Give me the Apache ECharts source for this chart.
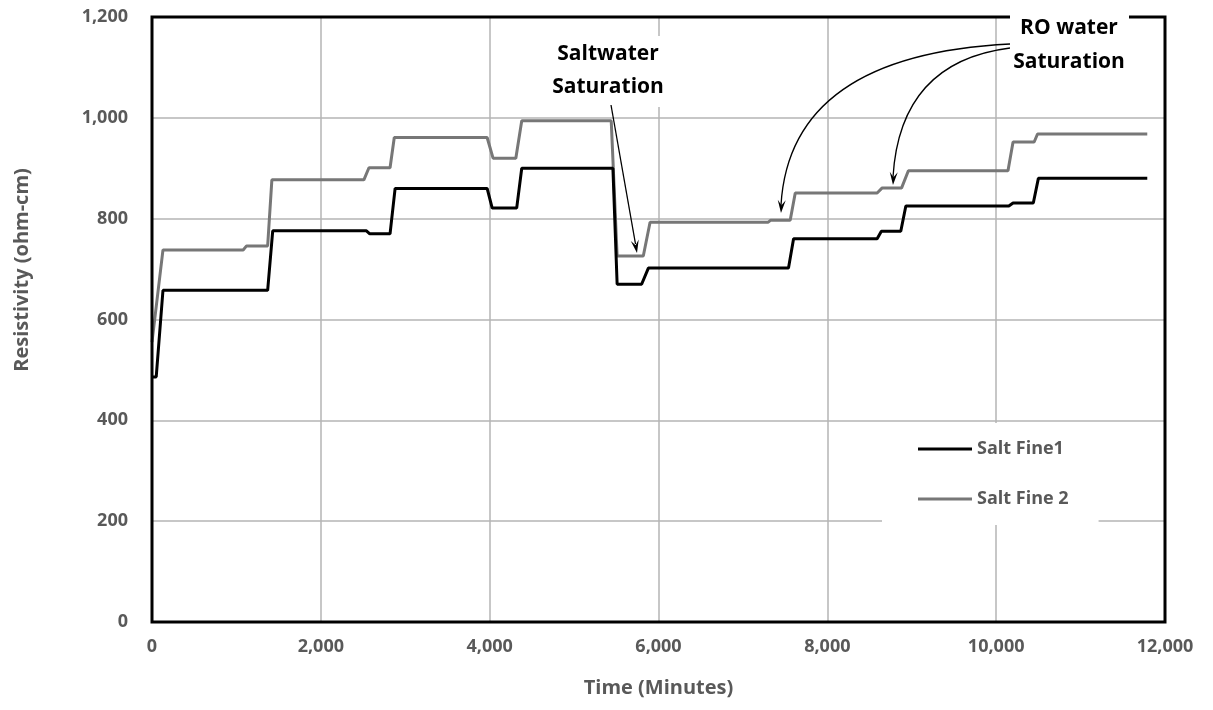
<!DOCTYPE html>
<html>
<head>
<meta charset="utf-8">
<script src="https://cdn.jsdelivr.net/npm/echarts@6/dist/echarts.min.js"></script>
<style>
html,body{margin:0;padding:0;background:#fff;}
#chart{width:1213px;height:710px;}
</style>
</head>
<body>
<div id="chart"></div>
<script>
// ---- data ----
const seriesNames = ['Salt Fine1', 'Salt Fine 2'];
const time1 = [0, 50, 130, 1370, 1430, 2540, 2580, 2820, 2880, 3970, 4030, 4320, 4380, 5460, 5510, 5800, 5880, 7540, 7600, 8590, 8640, 8870, 8930, 10150, 10200, 10440, 10500, 11790];
const res1  = [486, 486, 658, 658, 776, 776, 770, 770, 860, 860, 821, 821, 900, 900, 670, 670, 702, 702, 760, 760, 775, 775, 825, 825, 831, 831, 880, 880];
const time2 = [0, 130, 1080, 1120, 1370, 1420, 2510, 2570, 2820, 2870, 3970, 4040, 4310, 4380, 5440, 5510, 5820, 5900, 7300, 7330, 7560, 7620, 8590, 8650, 8880, 8960, 10140, 10200, 10450, 10490, 11790];
const res2  = [555, 738, 738, 746, 746, 877, 877, 901, 901, 961, 961, 920, 920, 994, 994, 726, 726, 793, 793, 797, 797, 851, 851, 861, 861, 895, 895, 952, 952, 968, 968];
const xTicks = [0, 2000, 4000, 6000, 8000, 10000, 12000];
const yTicks = [0, 200, 400, 600, 800, 1000, 1200];
const xTitle = 'Time (Minutes)';
const yTitle = 'Resistivity (ohm-cm)';
const noteSalt = 'Saltwater\nSaturation';
const noteRO = 'RO water\nSaturation';

const pairs = (xs, ys) => xs.map((x, i) => [x, ys[i]]);
const fmt = v => Number(v).toLocaleString('en-US');

const FONT = '"Open Sans", "Noto Sans", sans-serif';
const GRAYTXT = '#595959';
const GRID = { left: 152, right: 48, top: 17, bottom: 88 };
const W = 1213, H = 710;

function arrowHead(tip, from, len, half) {
  const dx = tip[0] - from[0], dy = tip[1] - from[1];
  const d = Math.hypot(dx, dy);
  const ux = dx / d, uy = dy / d;
  const bx = tip[0] - ux * len, by = tip[1] - uy * len;
  const nx = -uy, ny = ux;
  return {
    type: 'polygon', z: 110,
    shape: { points: [tip, [bx + nx * half, by + ny * half], [tip[0] - ux * len * 0.6, tip[1] - uy * len * 0.6], [bx - nx * half, by - ny * half]] },
    style: { fill: '#000' }
  };
}

const chart = echarts.init(document.getElementById('chart'), null, { renderer: 'canvas' });

const c1 = { x1: 1010, y1: 44, cpx1: 790, cpy1: 55, x2: 781, y2: 213 };
const c2 = { x1: 1010, y1: 48, cpx1: 900, cpy1: 62, x2: 893, y2: 185 };
const s1 = { x1: 611, y1: 105, x2: 637, y2: 253 };

const option = {
  animation: false,
  backgroundColor: '#fff',
  grid: { left: GRID.left, right: GRID.right, top: GRID.top, bottom: GRID.bottom },
  xAxis: {
    type: 'value',
    min: xTicks[0], max: xTicks[xTicks.length - 1], interval: xTicks[1] - xTicks[0],
    name: xTitle, nameLocation: 'middle', nameGap: 56,
    nameTextStyle: { fontFamily: FONT, fontWeight: 'bold', fontSize: 20, color: GRAYTXT },
    axisLine: { show: false }, axisTick: { show: false },
    axisLabel: { margin: 16, fontFamily: FONT, fontWeight: 'bold', fontSize: 18, color: GRAYTXT, formatter: fmt },
    splitLine: { show: true, lineStyle: { color: '#b4b4b4', width: 1.5 } }
  },
  yAxis: {
    type: 'value',
    min: yTicks[0], max: yTicks[yTicks.length - 1], interval: yTicks[1] - yTicks[0],
    axisLine: { show: false }, axisTick: { show: false },
    axisLabel: { margin: 24, fontFamily: FONT, fontWeight: 'bold', fontSize: 18, color: GRAYTXT, formatter: fmt },
    splitLine: { show: true, lineStyle: { color: '#b4b4b4', width: 1.5 } }
  },
  legend: {
    orient: 'vertical', left: 882, top: 423,
    backgroundColor: '#fff',
    padding: [16, 30, 16, 36],
    itemGap: 30, itemWidth: 54, itemHeight: 3, icon: 'rect',
    textStyle: { fontFamily: FONT, fontSize: 18, fontWeight: 'bold', color: GRAYTXT, lineHeight: 20 },
    data: seriesNames
  },
  series: [
    {
      name: seriesNames[0], type: 'line', data: pairs(time1, res1),
      showSymbol: false, symbol: 'none', z: 3,
      lineStyle: { color: '#000', width: 3 }, itemStyle: { color: '#000' }
    },
    {
      name: seriesNames[1], type: 'line', data: pairs(time2, res2),
      showSymbol: false, symbol: 'none', z: 2,
      lineStyle: { color: '#777', width: 3 }, itemStyle: { color: '#777' }
    }
  ],
  graphic: [
    // plot frame
    {
      type: 'rect', z: 50,
      shape: { x: GRID.left, y: GRID.top, width: W - GRID.left - GRID.right, height: H - GRID.top - GRID.bottom },
      style: { fill: null, stroke: '#000', lineWidth: 3 }
    },
    // y axis title
    {
      type: 'text', z: 100, x: 22, y: 270, rotation: Math.PI / 2,
      style: { text: yTitle, fontFamily: FONT, fontWeight: 'bold', fontSize: 20, fill: GRAYTXT, align: 'center', verticalAlign: 'middle' }
    },
    // white boxes behind annotations
    { type: 'rect', z: 100, shape: { x: 545, y: 36, width: 127, height: 71 }, style: { fill: '#fff' } },
    { type: 'rect', z: 100, shape: { x: 1010, y: 6, width: 119, height: 72 }, style: { fill: '#fff' } },
    // annotation texts
    {
      type: 'text', z: 105, x: 608, y: 71,
      style: { text: noteSalt, fontFamily: FONT, fontWeight: 'bold', fontSize: 21, lineHeight: 33, fill: '#000', align: 'center', verticalAlign: 'middle' }
    },
    {
      type: 'text', z: 105, x: 1069, y: 45,
      style: { text: noteRO, fontFamily: FONT, fontWeight: 'bold', fontSize: 21, lineHeight: 34, fill: '#000', align: 'center', verticalAlign: 'middle' }
    },
    // arrows
    { type: 'line', z: 110, shape: { x1: s1.x1, y1: s1.y1, x2: s1.x2 - 1.5, y2: s1.y2 - 9 }, style: { stroke: '#000', lineWidth: 1.3 } },
    arrowHead([s1.x2, s1.y2], [s1.x1, s1.y1], 13, 4),
    { type: 'bezierCurve', z: 110, shape: Object.assign({}, c1, { y2: c1.y2 - 8 }), style: { stroke: '#000', lineWidth: 1.3, fill: null } },
    arrowHead([c1.x2, c1.y2], [c1.cpx1, c1.cpy1], 13, 4),
    { type: 'bezierCurve', z: 110, shape: Object.assign({}, c2, { y2: c2.y2 - 8 }), style: { stroke: '#000', lineWidth: 1.3, fill: null } },
    arrowHead([c2.x2, c2.y2], [c2.cpx1, c2.cpy1], 13, 4)
  ]
};
chart.setOption(option);
</script>
</body>
</html>
